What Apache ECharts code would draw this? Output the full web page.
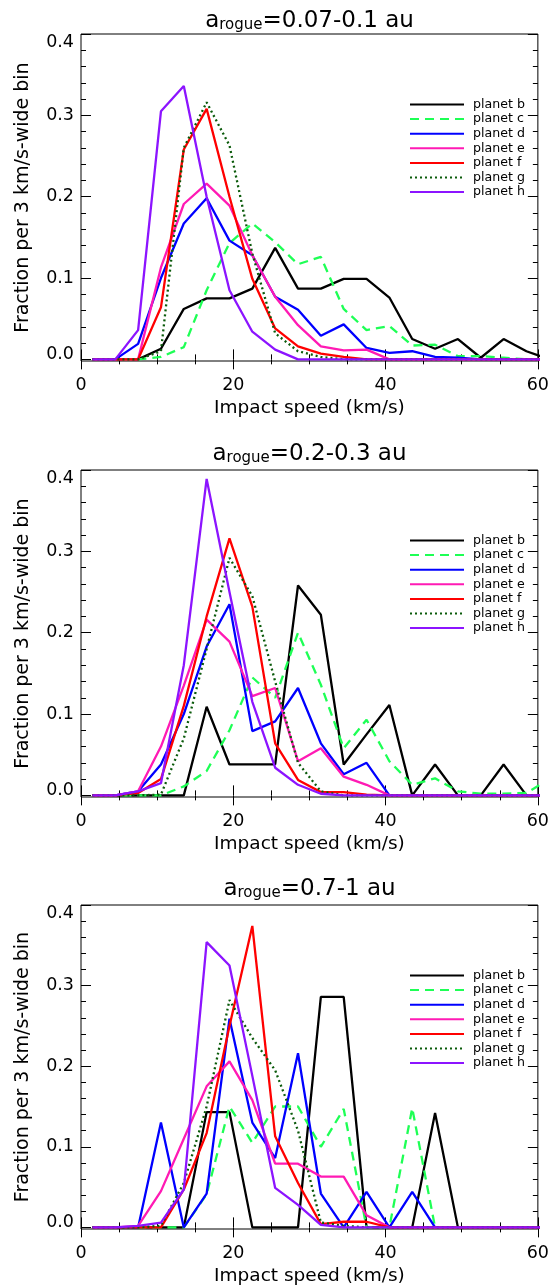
<!DOCTYPE html>
<html>
<head>
<meta charset="utf-8">
<script src="https://cdn.jsdelivr.net/npm/echarts@6/dist/echarts.min.js"></script>
<style>
  html, body { margin: 0; padding: 0; background: #fff; }
  #chart { width: 552px; height: 1287px; }
</style>
</head>
<body>
<div id="chart"></div>
<script>
// Bin centres of the 3 km/s-wide impact-speed bins (km/s)
const speeds = [1.5, 4.5, 7.5, 10.5, 13.5, 16.5, 19.5, 22.5, 25.5, 28.5, 31.5, 34.5, 37.5, 40.5, 43.5, 46.5, 49.5, 52.5, 55.5, 58.5, 61.5];

const planetNames = ['planet b', 'planet c', 'planet d', 'planet e', 'planet f', 'planet g', 'planet h'];
const rogueRanges = ['0.07-0.1', '0.2-0.3', '0.7-1'];

// Tick labels
const xTickLabels = [0, 20, 40, 60];
const yTickLabels = [0, 0.1, 0.2, 0.3, 0.4];

// a_rogue = 0.07-0.1 au
const near_b = [0, 0, 0, 0.013, 0.062, 0.075, 0.075, 0.087, 0.137, 0.087, 0.087, 0.099, 0.099, 0.076, 0.025, 0.013, 0.025, 0.002, 0.025, 0.010, 0];
const near_c = [0, 0, 0, 0.003, 0.015, 0.085, 0.143, 0.167, 0.144, 0.117, 0.126, 0.062, 0.036, 0.041, 0.017, 0.018, 0.004, 0.004, 0.002, 0, 0];
const near_d = [0, 0, 0.019, 0.100, 0.167, 0.198, 0.146, 0.128, 0.077, 0.061, 0.029, 0.043, 0.014, 0.008, 0.010, 0.003, 0.002, 0, 0, 0, 0];
const near_e = [0, 0, 0, 0.113, 0.191, 0.216, 0.189, 0.128, 0.077, 0.042, 0.016, 0.011, 0.012, 0, 0, 0, 0, 0, 0, 0, 0];
const near_f = [0, 0, 0, 0.064, 0.258, 0.308, 0.200, 0.099, 0.038, 0.016, 0.007, 0.003, 0, 0, 0, 0, 0, 0, 0, 0, 0];
const near_g = [0, 0, 0, 0.010, 0.260, 0.316, 0.263, 0.130, 0.032, 0.010, 0.003, 0, 0, 0, 0, 0, 0, 0, 0, 0, 0];
const near_h = [0, 0, 0.036, 0.305, 0.336, 0.200, 0.085, 0.034, 0.012, 0, 0, 0, 0, 0, 0, 0, 0, 0, 0, 0, 0];

// a_rogue = 0.2-0.3 au
const mid_b = [0, 0, 0, 0, 0, 0.109, 0.038, 0.038, 0.038, 0.258, 0.222, 0.038, 0.075, 0.111, 0, 0.038, 0, 0, 0.038, 0, 0];
const mid_c = [0, 0, 0, 0, 0.011, 0.030, 0.080, 0.145, 0.120, 0.200, 0.136, 0.058, 0.093, 0.042, 0.013, 0.021, 0.005, 0.002, 0.002, 0.003, 0.020];
const mid_d = [0, 0, 0.005, 0.038, 0.100, 0.183, 0.235, 0.079, 0.091, 0.132, 0.064, 0.026, 0.040, 0, 0, 0, 0, 0, 0, 0, 0];
const mid_e = [0, 0, 0.005, 0.060, 0.135, 0.216, 0.189, 0.122, 0.132, 0.042, 0.058, 0.023, 0.013, 0, 0, 0, 0, 0, 0, 0, 0];
const mid_f = [0, 0, 0.003, 0.020, 0.110, 0.220, 0.316, 0.232, 0.064, 0.019, 0.004, 0.004, 0.001, 0, 0, 0, 0, 0, 0, 0, 0];
const mid_g = [0, 0, 0, 0.001, 0.070, 0.180, 0.292, 0.245, 0.140, 0.040, 0.005, 0, 0, 0, 0, 0, 0, 0, 0, 0, 0];
const mid_h = [0, 0, 0.005, 0.015, 0.160, 0.389, 0.250, 0.115, 0.034, 0.013, 0.002, 0, 0, 0, 0, 0, 0, 0, 0, 0, 0];

// a_rogue = 0.7-1 au
const far_b = [0, 0, 0, 0, 0, 0.143, 0.143, 0, 0, 0, 0.286, 0.286, 0, 0, 0, 0.142, 0, 0, 0, 0, 0];
const far_c = [0, 0, 0, 0, 0, 0.041, 0.150, 0.105, 0.150, 0.150, 0.100, 0.147, 0, 0, 0.148, 0, 0, 0, 0, 0, 0];
const far_d = [0, 0, 0, 0.130, 0, 0.042, 0.259, 0.130, 0.086, 0.216, 0.042, 0, 0.044, 0, 0.044, 0, 0, 0, 0, 0, 0];
const far_e = [0, 0, 0.002, 0.045, 0.110, 0.175, 0.206, 0.158, 0.079, 0.079, 0.063, 0.063, 0.015, 0, 0, 0, 0, 0, 0, 0, 0];
const far_f = [0, 0, 0, 0, 0.047, 0.117, 0.250, 0.374, 0.113, 0.055, 0.004, 0.007, 0.007, 0, 0, 0, 0, 0, 0, 0, 0];
const far_g = [0, 0, 0, 0.002, 0.055, 0.150, 0.282, 0.235, 0.195, 0.120, 0.006, 0.002, 0, 0, 0, 0, 0, 0, 0, 0, 0];
const far_h = [0, 0, 0.002, 0.006, 0.047, 0.354, 0.325, 0.188, 0.049, 0.028, 0.003, 0, 0, 0, 0, 0, 0, 0, 0, 0, 0];

const panels = [
  [near_b, near_c, near_d, near_e, near_f, near_g, near_h],
  [mid_b, mid_c, mid_d, mid_e, mid_f, mid_g, mid_h],
  [far_b, far_c, far_d, far_e, far_f, far_g, far_h]
];

// Line styles per planet
const lineColors = ['#000000', '#1eff55', '#0000ff', '#ff1ab4', '#ff0000', '#0a5a0a', '#8c14ff'];
const lineTypes = ['solid', [9, 6], 'solid', 'solid', 'solid', [2, 3], 'solid'];

const FONT = 'DejaVu Sans';
const panelTops = [34, 470, 905];
const titleTops = [5, 438, 873];
const plotLeft = 81, plotRight = 14, plotHeight = 327;
const yMin = -0.002, yMax = 0.4;

const minorY = [];
for (let k = 1; k < 20; k++) {
  if (k % 5 !== 0) minorY.push(+(k * 0.02).toFixed(2));
}

const grid = [], xAxis = [], yAxis = [], series = [], title = [], legend = [];

panelTops.forEach((top, p) => {
  grid.push({
    left: plotLeft, right: plotRight, top: top, height: plotHeight,
    show: true, borderColor: '#000', borderWidth: 1, backgroundColor: 'transparent'
  });

  const xCommon = {
    type: 'value', gridIndex: p, min: xTickLabels[0], max: xTickLabels[xTickLabels.length - 1], interval: 20,
    axisLine: { show: false },
    axisTick: { show: true, inside: true, length: 10, lineStyle: { color: '#000', width: 1 } },
    minorTick: { show: true, splitNumber: 4, length: 5, lineStyle: { color: '#000', width: 1 } },
    splitLine: { show: false }, minorSplitLine: { show: false }
  };
  xAxis.push(Object.assign({}, xCommon, {
    position: 'bottom',
    axisLabel: { show: true, color: '#000', fontFamily: FONT, fontSize: 17.5, margin: 15 },
    name: 'Impact speed (km/s)', nameLocation: 'middle', nameGap: 38,
    nameTextStyle: { color: '#000', fontFamily: FONT, fontSize: 18.5 }
  }));
  xAxis.push(Object.assign({}, xCommon, { position: 'top', axisLabel: { show: false } }));

  const yCommon = {
    type: 'value', gridIndex: p, min: yMin, max: yMax,
    axisLine: { show: false }, splitLine: { show: false }
  };
  const yMajorTick = { show: true, inside: true, length: 10, customValues: yTickLabels, lineStyle: { color: '#000', width: 1 } };
  const yMinorTick = { show: true, inside: true, length: 5, customValues: minorY, lineStyle: { color: '#000', width: 1 } };
  yAxis.push(Object.assign({}, yCommon, {
    position: 'left', axisTick: yMajorTick,
    axisLabel: {
      show: true, customValues: yTickLabels, color: '#000', fontFamily: FONT, fontSize: 17.5, margin: 7,
      formatter: function (v) {
        const s = v.toFixed(1);
        if (Math.abs(v - yTickLabels[yTickLabels.length - 1]) < 1e-9) return '{hi|' + s + '}';
        if (Math.abs(v - yTickLabels[0]) < 1e-9) return '{lo|' + s + '}';
        return s;
      },
      rich: {
        hi: { fontFamily: FONT, fontSize: 17.5, color: '#000', padding: [16, 0, 0, 0] },
        lo: { fontFamily: FONT, fontSize: 17.5, color: '#000', padding: [0, 0, 9, 0] }
      }
    },
    name: 'Fraction per 3 km/s-wide bin', nameLocation: 'middle', nameGap: 48, nameRotate: 90,
    nameTextStyle: { color: '#000', fontFamily: FONT, fontSize: 19 }
  }));
  yAxis.push(Object.assign({}, yCommon, { position: 'left', axisTick: yMinorTick, axisLabel: { show: false } }));
  yAxis.push(Object.assign({}, yCommon, { position: 'right', axisTick: yMajorTick, axisLabel: { show: false } }));
  yAxis.push(Object.assign({}, yCommon, { position: 'right', axisTick: yMinorTick, axisLabel: { show: false } }));

  title.push({
    text: '{m|a}{s|rogue}{m|=' + rogueRanges[p] + ' au}',
    left: plotLeft + (552 - plotLeft - plotRight) / 2, textAlign: 'center', top: titleTops[p], padding: 0,
    textStyle: {
      fontWeight: 'normal',
      rich: {
        m: { fontFamily: FONT, fontSize: 23, fontWeight: 'normal', color: '#000', lineHeight: 28, verticalAlign: 'bottom' },
        s: { fontFamily: FONT, fontSize: 15, fontWeight: 'normal', color: '#000', lineHeight: 16, verticalAlign: 'bottom' }
      }
    }
  });

  legend.push({
    data: planetNames, orient: 'vertical', left: 409, top: top + 64,
    itemWidth: 54, itemHeight: 14, itemGap: 1.6, padding: 0, selectedMode: false,
    itemStyle: { color: 'transparent', borderColor: 'transparent', borderWidth: 0, opacity: 0 },
    textStyle: { color: '#000', fontFamily: FONT, fontSize: 12.6, padding: [0, 0, 0, 4] }
  });

  panels[p].forEach((vals, k) => {
    series.push({
      type: 'line', name: planetNames[k], xAxisIndex: 2 * p, yAxisIndex: 4 * p,
      data: speeds.map((x, i) => [x, vals[i]]),
      symbol: 'none', showSymbol: false, clip: true, silent: true,
      color: lineColors[k],
      lineStyle: { color: lineColors[k], width: 2.3, type: lineTypes[k] },
      emphasis: { disabled: true }
    });
  });
});

const chart = echarts.init(document.getElementById('chart'), null, { renderer: 'canvas' });
chart.setOption({
  backgroundColor: '#ffffff',
  animation: false,
  title: title,
  legend: legend,
  grid: grid,
  xAxis: xAxis,
  yAxis: yAxis,
  series: series
});
</script>
</body>
</html>
